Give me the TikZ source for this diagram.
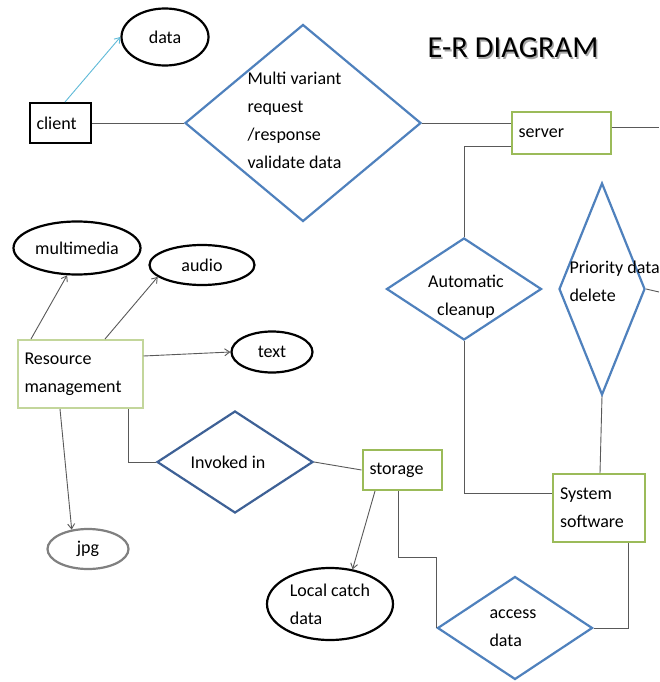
\documentclass[tikz,border=0pt]{standalone}
\usepackage{fontspec}
\setmainfont{Carlito}
\usepackage{tikz}
\usetikzlibrary{arrows.meta, calc, shapes.geometric, positioning}
\definecolor{relblue}{HTML}{4F81BD}
\definecolor{reldark}{HTML}{3E6196}
\definecolor{entgreen}{HTML}{9BBB59}
\definecolor{entlight}{HTML}{C3D69B}
\definecolor{linkgray}{HTML}{595959}
\definecolor{linkcyan}{HTML}{5FBAD8}

\begin{document}
\begin{tikzpicture}[x=1pt, y=-1pt, >={Straight Barb[length=5pt,width=7pt]}, font=\fontsize{18}{28}\selectfont,
    ent/.style={draw=entgreen, line width=2pt, inner xsep=7pt, align=left},
    attr/.style={draw=black, ellipse, line width=2.2pt, inner sep=0pt},
    rel/.style={draw=relblue, diamond, line width=2.2pt, inner sep=0pt},
    link/.style={draw=linkgray, line width=0.9pt}] % 坐标单位 = 像素

    % 1. 画布范围
    \useasboundingbox[fill=white] (0,0) rectangle (659,682);

    % 2. 标题 (带阴影)
    \node[font=\fontsize{30.5}{36}\selectfont, text=gray!70] (titleshd) at (514.5,49.5) {E-R DIAGRAM};
    \node[font=\fontsize{30.5}{36}\selectfont] (title) at (513,48) {E-R DIAGRAM};

    % 3. 实体
    \node[ent, draw=black, text width=47pt, minimum height=40pt] (client) at (60,123) {client};
    \node[ent, text width=85pt, minimum height=41pt] (server) at (561,133) {server};
    \node[ent, draw=entlight, text width=111pt, minimum height=68pt] (res) at (80,374) {Resource\\management};
    \node[ent, text width=78pt, minimum height=68pt] (sys) at (599,508) {System\\software};
    \node[ent, text width=65pt, minimum height=40pt] (store) at (402,470) {storage};

    % 4. 属性
    \node[attr, minimum width=87pt, minimum height=57pt] (dat) at (165,37) {data};
    \node[attr, minimum width=127pt, minimum height=53pt] (mm) at (77,248) {multimedia};
    \node[attr, minimum width=105pt, minimum height=40pt] (aud) at (202,265) {audio};
    \node[attr, minimum width=81pt, minimum height=41pt] (txt) at (272,352) {text};
    \node[attr, draw=gray, minimum width=81pt, minimum height=40pt] (jpg) at (88,549) {jpg};
    \node[attr, align=left, minimum width=126pt, minimum height=72pt] (lc) at (330,604) {Local catch\\data};

    % 5. 关系 (菱形 + 文字)
    \node[rel, minimum width=236pt, minimum height=197pt] (mv) at (303,123) {};
    \node[align=left, anchor=west] (mvtxt) at (244,120.5) {Multi variant\\request\\/response\\validate data};
    \node[rel, minimum width=155pt, minimum height=102pt] (auto) at (464,289) {};
    \node[align=center] (autotxt) at (466,296.5) {Automatic\\cleanup};
    \node[rel, minimum width=86pt, minimum height=212pt] (prio) at (602,289) {};
    \node[align=left, anchor=west] (priotxt) at (566,281) {Priority data\\delete};
    \node[rel, draw=reldark, minimum width=156pt, minimum height=102pt] (inv) at (235,462) {};
    \node (invtxt) at (228,462) {Invoked in};
    \node[rel, minimum width=155pt, minimum height=103pt] (acc) at (515,628) {};
    \node[align=left, anchor=west] (acctxt) at (486,628) {access\\data};

    % 6. 连线
    \coordinate (cutA) at (659,127);
    \coordinate (cutB) at (659,292);
    \draw[link, draw=linkcyan, ->] ([xshift=5]client.north) -- (dat.west);
    \draw[link] (client.east) -- (mv.west);
    \draw[link] (mv.east) -- (mv.east -| server.west);
    \draw[link] ([yshift=6]server.east) -- (cutA);
    \draw[link] ([yshift=-13]server.west) -| (auto.north);
    \draw[link] (auto.south) |- ([yshift=15]sys.west);
    \draw[link] (prio.south) -- ([xshift=1]sys.north);
    \draw[link] (prio.east) -- (cutB);
    \draw[link] ([xshift=29]sys.south) |- (acc.east);
    \draw[link] ([xshift=-4]store.south) |- ($(acc.west)+(0,-71)$) -- (acc.west);
    \draw[link] (inv.east) -- (store.west);
    \draw[link] ([xshift=48]res.south) |- (inv.west);

    % 7. 属性箭头
    \draw[link, ->] ([xshift=-49]res.north) -- (mm.250);
    \draw[link, ->] ([xshift=25]res.north) -- (aud.195);
    \draw[link, ->] ([yshift=18]res.east) -- (txt.west);
    \draw[link, ->] ([xshift=-20]res.south) -- (jpg.130);
    \draw[link, ->] ([xshift=-27]store.south) -- (lc.57);

\end{tikzpicture}
\end{document}
